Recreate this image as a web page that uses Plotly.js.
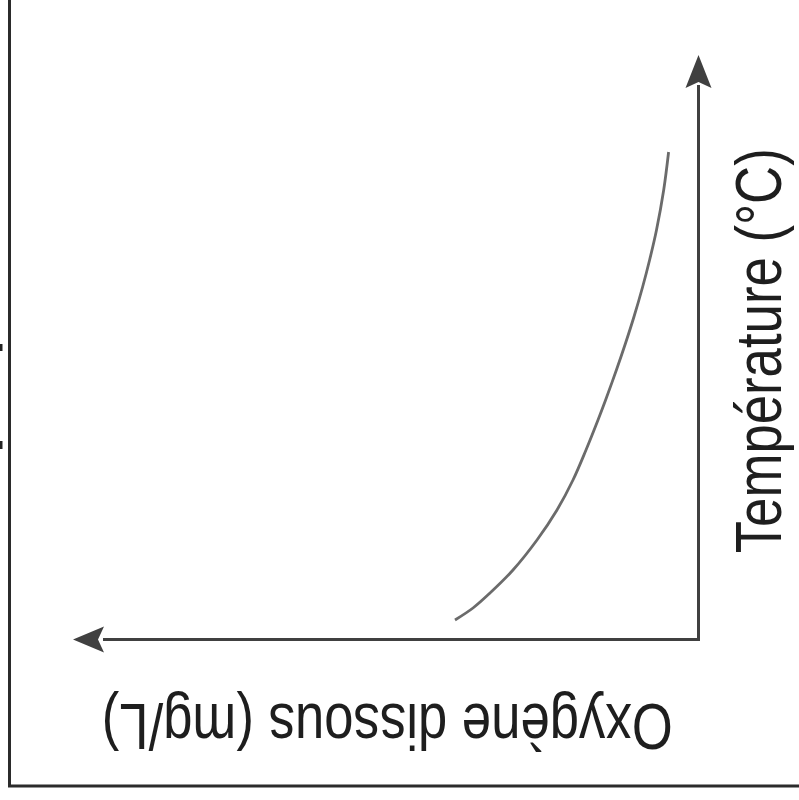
<!DOCTYPE html>
<html>
<head>
<meta charset="utf-8">
<script src="https://cdn.plot.ly/plotly-3.0.1.min.js"></script>
<style>html,body{margin:0;padding:0;background:#fff;}#chart{width:799px;height:800px;}</style>
</head>
<body>
<div id="chart"></div>
<script>
// Data (arbitrary units, no ticks shown in the original)
const oxygen = [24.2, 22.4, 20.7, 18.4, 16.0, 14.0, 12.4, 11.1, 9.9, 9.14, 8.06, 7.14, 6.31, 5.44, 4.74, 4.05, 3.33, 2.84];
const temperature = [1.8, 3.0, 4.5, 6.8, 9.8, 12.8, 15.8, 18.8, 21.8, 23.8, 26.8, 29.5, 32.1, 35.1, 37.8, 40.8, 44.8, 48.6];
const xLabel = 'Oxygène dissous (mg/L)';
const yLabel = 'Température (°C)';

const W = 799, H = 800;
const M = {l: 103, r: 102, t: 85, b: 162, pad: 0};
const PW = W - M.l - M.r, PH = H - M.t - M.b;
const px = v => (v - M.l) / PW;          // pixel x -> paper
const py = v => (H - M.b - v) / PH;      // pixel y -> paper

const axisColor = '#404040';
const font = 'Liberation Sans, Arial, Helvetica, sans-serif';

const trace = {
  x: oxygen, y: temperature, type: 'scatter', mode: 'lines',
  line: {color: '#6b6b6b', width: 2.8, shape: 'spline', smoothing: 1},
  hoverinfo: 'skip', cliponaxis: false
};

function path(pts) {
  return 'M' + pts.map(p => px(p[0]) + ',' + py(p[1])).join('L') + 'Z';
}

const shapes = [
  // outer frame (left and bottom)
  {type: 'line', xref: 'paper', yref: 'paper', x0: px(9.5), x1: px(9.5), y0: py(-2), y1: py(787), line: {color: '#2b2b2b', width: 3}},
  {type: 'line', xref: 'paper', yref: 'paper', x0: px(8), x1: px(801), y0: py(786), y1: py(786), line: {color: '#2b2b2b', width: 3}},
  // small marks at the left edge
  {type: 'rect', xref: 'paper', yref: 'paper', x0: px(-1), x1: px(2.5), y0: py(344), y1: py(351), fillcolor: '#222', line: {width: 0}},
  {type: 'rect', xref: 'paper', yref: 'paper', x0: px(-1), x1: px(2.5), y0: py(441), y1: py(449), fillcolor: '#222', line: {width: 0}},
  // arrowheads
  {type: 'path', xref: 'paper', yref: 'paper', path: path([[698.5, 55], [711.5, 88], [698.5, 82], [685.5, 88]]), fillcolor: axisColor, line: {width: 0}},
  {type: 'path', xref: 'paper', yref: 'paper', path: path([[73, 639.5], [104, 626.5], [98, 639.5], [104, 652.5]]), fillcolor: axisColor, line: {width: 0}}
];

const annotations = [
  {text: yLabel, xref: 'paper', yref: 'paper', x: px(758), y: py(350.5), xanchor: 'center', yanchor: 'middle',
   showarrow: false, textangle: -90, font: {family: font, size: 64, color: '#1e1e1e'}},
  {text: xLabel, xref: 'paper', yref: 'paper', x: px(387.5), y: py(726), xanchor: 'center', yanchor: 'middle',
   showarrow: false, textangle: 180, font: {family: font, size: 64, color: '#1e1e1e'}}
];

// condensed widths of the two labels in the original (px)
const labelLengths = {};
labelLengths[yLabel] = 405;
labelLengths[xLabel] = 571;

const layout = {
  width: W, height: H, margin: M,
  paper_bgcolor: '#fff', plot_bgcolor: '#fff', showlegend: false,
  xaxis: {range: [PW / 10, 0], showgrid: false, zeroline: false, showticklabels: false, ticks: '',
          showline: true, linecolor: axisColor, linewidth: 3, side: 'bottom', fixedrange: true},
  yaxis: {range: [0, PH / 10], showgrid: false, zeroline: false, showticklabels: false, ticks: '',
          showline: true, linecolor: axisColor, linewidth: 3, side: 'right', fixedrange: true},
  shapes: shapes, annotations: annotations
};

Plotly.newPlot('chart', [trace], layout, {staticPlot: true, displayModeBar: false}).then(gd => {
  gd.querySelectorAll('text.annotation-text').forEach(t => {
    const len = labelLengths[t.textContent];
    if (len) {
      t.setAttribute('textLength', len);
      t.setAttribute('lengthAdjust', 'spacingAndGlyphs');
    }
  });
});
</script>
</body>
</html>
